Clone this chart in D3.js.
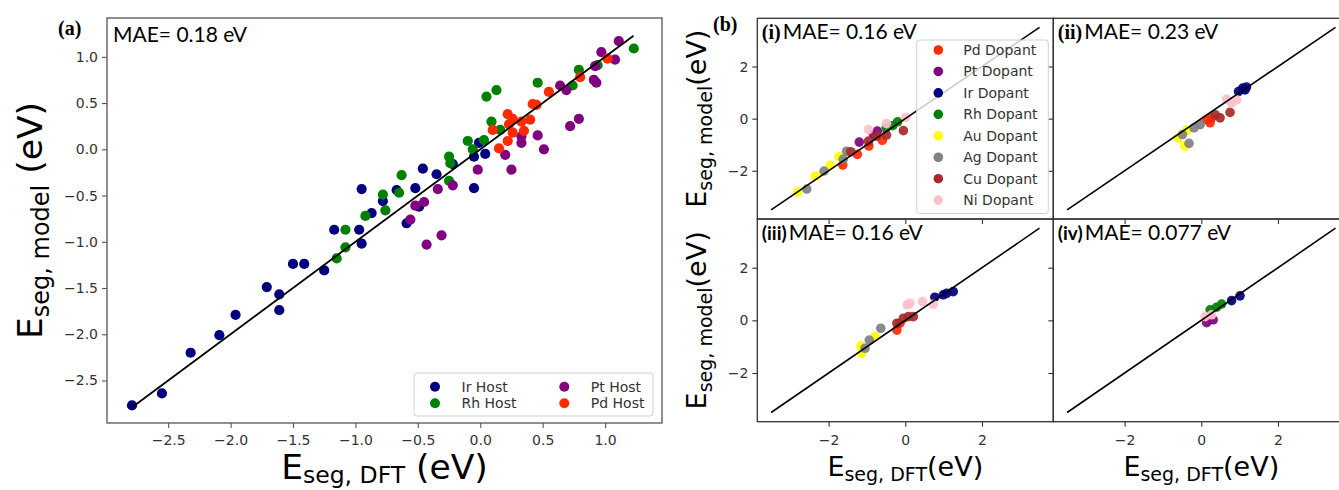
<!DOCTYPE html>
<html>
<head>
<meta charset="utf-8">
<script src="https://cdn.jsdelivr.net/npm/d3@7"></script>
<style>
  body { margin: 0; background: #fff; }
  text { white-space: pre; }
</style>
</head>
<body>
<svg id="fig" width="1339" height="490"></svg>
<script>
// ---------- Panel (a): segregation energy, model vs DFT, by host metal [DFT, model] (eV)
const irHost = [[-2.79,-2.77],[-2.55,-2.64],[-2.32,-2.20],[-2.09,-2.01],[-1.96,-1.79],[-1.71,-1.49],
  [-1.61,-1.57],[-1.61,-1.74],[-1.50,-1.24],[-1.41,-1.24],[-1.25,-1.31],[-1.17,-0.87],[-0.97,-0.87],
  [-0.95,-1.02],[-0.95,-0.43],[-0.87,-0.69],[-0.78,-0.56],[-0.67,-0.44],[-0.52,-0.42],[-0.59,-0.80],
  [-0.49,-0.62],[-0.46,-0.21],[-0.35,-0.27],[-0.22,-0.16],[-0.05,-0.42],[-0.05,-0.08],[-0.01,0.07],[0.04,-0.05]];
const rhHost = [[-1.15,-1.18],[-1.08,-0.87],[-1.08,-1.06],[-0.92,-0.72],[-0.78,-0.49],[-0.76,-0.66],
  [-0.65,-0.47],[-0.63,-0.28],[-0.25,-0.34],[-0.25,-0.08],[-0.24,-0.15],[-0.10,0.09],[-0.06,0.00],
  [0.03,0.10],[0.05,0.57],[0.13,0.64],[0.09,0.30],[0.16,0.21],[0.46,0.72],[0.79,0.86],[0.74,0.69],
  [0.94,0.91],[1.23,1.09]];
const ptHost = [[-0.56,-0.76],[-0.52,-0.61],[-0.45,-0.57],[-0.43,-1.03],[-0.31,-0.93],[-0.34,-0.43],
  [-0.22,-0.39],[-0.02,-0.22],[0.20,-0.06],[0.25,-0.22],[0.33,0.07],[0.33,0.14],[0.46,0.15],[0.51,0.00],
  [0.64,0.69],[0.69,0.64],[0.72,0.25],[0.79,0.33],[0.91,0.75],[0.93,0.72],[0.92,0.90],[0.97,1.05],
  [1.08,0.97],[1.11,1.17]];
const pdHost = [[0.10,0.21],[0.15,0.01],[0.22,0.38],[0.23,0.27],[0.26,0.18],[0.22,0.09],[0.26,0.33],
  [0.33,0.30],[0.35,0.20],[0.40,0.32],[0.42,0.49],[0.45,0.48],[0.55,0.62],[0.80,0.78],[1.02,0.98]];
const hostNames = ["Ir Host", "Rh Host", "Pt Host", "Pd Host"];
const parityA = [-2.786, 1.228];
const ticksA = [-2.5, -2.0, -1.5, -1.0, -0.5, 0.0, 0.5, 1.0];
const maeA = "MAE= 0.18 eV";

// ---------- Panel (b): four sub-models, points as [dopant index, DFT, model] (eV)
const dopantNames = ["Pd Dopant", "Pt Dopant", "Ir Dopant", "Rh Dopant", "Au Dopant", "Ag Dopant", "Cu Dopant", "Ni Dopant"];
const subI = [[0,-1.63,-1.78],[0,-1.25,-1.37],[0,-0.95,-1.05],[0,-0.60,-0.83],
  [1,-1.20,-0.90],[1,-0.73,-0.48],[1,-0.83,-0.61],
  [3,-0.50,-0.36],[3,-0.33,-0.27],[3,-0.20,-0.12],
  [4,-2.81,-2.81],[4,-2.34,-2.20],[4,-1.96,-1.79],[4,-1.73,-1.46],
  [5,-2.57,-2.70],[5,-2.12,-2.01],[5,-1.62,-1.56],[5,-1.53,-1.25],
  [6,-1.42,-1.27],[6,-0.96,-0.86],[6,-0.75,-0.67],[6,-0.49,-0.63],[6,-0.05,-0.46],
  [7,-0.96,-0.42],[7,-0.49,-0.19],[7,0.01,0.05]];
const subII = [[2,0.97,1.04],[2,1.08,1.17],[2,1.14,1.10],[2,1.18,1.21],
  [7,0.66,0.75],[7,0.92,0.72],[7,0.79,0.60],
  [6,0.75,0.24],[6,0.49,0.03],[6,0.36,0.15],
  [0,0.23,-0.16],[0,0.27,0.03],[0,0.14,-0.04],
  [5,-0.03,-0.23],[5,-0.19,-0.35],[5,-0.49,-0.61],[5,-0.32,-0.95],
  [4,-0.43,-1.05],[4,-0.60,-0.74],[4,-0.38,-0.45]];
const subIII = [[4,-1.14,-1.25],[4,-1.16,-0.97],[4,-0.79,-0.62],
  [5,-1.05,-1.06],[5,-0.94,-0.75],[5,-0.64,-0.30],
  [0,-0.22,-0.37],[0,-0.14,-0.11],
  [6,-0.22,-0.11],[6,-0.05,0.08],[6,0.08,0.14],[6,0.21,0.14],
  [7,0.05,0.59],[7,0.12,0.65],[7,0.45,0.71],[7,0.73,0.61],
  [2,0.77,0.88],[2,0.99,0.97],[2,1.25,1.09],[2,1.08,1.03]];
const subIV = [[1,0.14,-0.09],[1,0.31,0.02],
  [7,0.10,0.14],[7,0.27,0.21],
  [3,0.23,0.40],[3,0.40,0.50],[3,0.53,0.62],
  [2,0.79,0.75],[2,1.01,0.93]];
const subTags = ["(i)", "(ii)", "(iii)", "(iv)"];
const subMAE = ["MAE= 0.16 eV", "MAE= 0.23 eV", "MAE= 0.16 eV", "MAE= 0.077 eV"];
const parityB = [-3.5, 3.5];
const ticksB = [-2, 0, 2];

// ---------- styling
const hostColors = ["#000080", "#008000", "#800080", "#ff2a00"];
const dopantColors = ["#ff2a00", "#800080", "#000080", "#008000", "#ffff00", "#808080", "#a52a2a", "#ffc0cb"];
const TICK_FONT = "DejaVu Sans";
const NOTE_FONT = "Lato, 'Open Sans', sans-serif";
const SERIF = "'Liberation Serif', 'DejaVu Serif', serif";

const svg = d3.select("#fig");
svg.append("rect").attr("width", 1339).attr("height", 490).attr("fill", "#fff");

function styleAxis(g, color) {
  g.select(".domain").remove();
  g.selectAll(".tick line").attr("stroke", color).attr("stroke-width", 1.1);
  g.selectAll(".tick text").attr("font-family", TICK_FONT).attr("font-size", 14).attr("fill", "#333");
}

// E_{sub} (unit) label in the mathtext style
function eLabel(g, sub, tail, F, f, shift) {
  const t = g.append("text").attr("text-anchor", "middle").attr("font-family", "DejaVu Sans").attr("fill", "#000");
  t.append("tspan").attr("font-size", F).text("E");
  t.append("tspan").attr("font-size", f).attr("dy", shift).text(sub);
  t.append("tspan").attr("font-size", F).attr("dy", -shift).text(tail);
  return t;
}

// ================= Panel (a)
const A = { left: 107, right: 662, top: 18, bottom: 423 };
const xA = d3.scaleLinear().domain([-2.99, 1.456]).range([A.left, A.right]);
const yA = d3.scaleLinear().domain([-2.96, 1.42]).range([A.bottom, A.top]);
const gA = svg.append("g");

const fmtA = d3.format(".1f");
gA.append("g").attr("transform", `translate(0,${A.bottom})`)
  .call(d3.axisBottom(xA).tickValues(ticksA).tickSize(5).tickPadding(7).tickFormat(fmtA))
  .call(g => styleAxis(g, "#555"));
gA.append("g").attr("transform", `translate(${A.left},0)`)
  .call(d3.axisLeft(yA).tickValues(ticksA).tickSize(5).tickPadding(4).tickFormat(fmtA))
  .call(g => styleAxis(g, "#555"));

[irHost, rhHost, ptHost, pdHost].forEach((pts, i) => {
  gA.append("g").selectAll("circle").data(pts).join("circle")
    .attr("cx", d => xA(d[0])).attr("cy", d => yA(d[1])).attr("r", 5.1)
    .attr("fill", hostColors[i]);
});
gA.append("line")
  .attr("x1", xA(parityA[0])).attr("y1", yA(parityA[0]))
  .attr("x2", xA(parityA[1])).attr("y2", yA(parityA[1]))
  .attr("stroke", "#000").attr("stroke-width", 1.8);

gA.append("rect").attr("x", A.left).attr("y", A.top)
  .attr("width", A.right - A.left).attr("height", A.bottom - A.top)
  .attr("fill", "none").attr("stroke", "#555").attr("stroke-width", 1.3);

// legend (two columns)
const legA = gA.append("g");
legA.append("rect").attr("x", 414).attr("y", 373).attr("width", 239).attr("height", 43).attr("rx", 3)
  .attr("fill", "#fff").attr("fill-opacity", 0.8).attr("stroke", "#d0d0d0");
hostNames.forEach((name, i) => {
  const col = Math.floor(i / 2), row = i % 2;
  const cx = 435 + col * 129.3, cy = 386.7 + row * 16.6;
  legA.append("circle").attr("cx", cx).attr("cy", cy).attr("r", 5).attr("fill", hostColors[i]);
  legA.append("text").attr("x", cx + 26.5).attr("y", cy + 5)
    .attr("font-family", TICK_FONT).attr("font-size", 14).attr("fill", "#333").text(name);
});

gA.append("text").attr("x", 113).attr("y", 41.5).attr("font-family", NOTE_FONT).attr("font-size", 21)
  .attr("fill", "#000").text(maeA);
gA.append("text").attr("x", 58).attr("y", 35).attr("font-family", SERIF).attr("font-weight", "bold")
  .attr("font-size", 20).attr("fill", "#000").text("(a)");

eLabel(gA.append("g").attr("transform", `translate(${(A.left + A.right) / 2},479)`),
  "seg, DFT", " (eV)", 34.5, 23.5, 4);
eLabel(gA.append("g").attr("transform", `translate(42,${(A.top + A.bottom) / 2}) rotate(-90)`),
  "seg, model", " (eV)", 34.5, 24, 7);

// ================= Panel (b): 2x2 grid sharing axes
const colX = [[757.3, 1053.3], [1053.3, 1349.3]];
const rowY = [[18.3, 219], [219, 421.7]];
const domB = [-3.86, 3.86];
const gB = svg.append("g");
const subData = [subI, subII, subIII, subIV];
const fmtB = d3.format("d");

subData.forEach((pts, k) => {
  const c = k % 2, r = Math.floor(k / 2);
  const x = d3.scaleLinear().domain(domB).range(colX[c]);
  const y = d3.scaleLinear().domain([-3.85, 3.85]).range([rowY[r][1], rowY[r][0]]);
  const g = gB.append("g");

  g.append("g").attr("transform", `translate(0,${rowY[r][1]})`)
    .call(d3.axisBottom(x).tickValues(ticksB).tickSize(5).tickPadding(8.5)
      .tickFormat(r === 1 ? fmtB : () => ""))
    .call(a => styleAxis(a, "#333"));
  g.append("g").attr("transform", `translate(${colX[c][0]},0)`)
    .call(d3.axisLeft(y).tickValues(ticksB).tickSize(5).tickPadding(4)
      .tickFormat(c === 0 ? fmtB : () => ""))
    .call(a => styleAxis(a, "#333"));

  const sorted = pts.slice().sort((a, b) => a[0] - b[0]);
  g.append("g").selectAll("circle").data(sorted).join("circle")
    .attr("cx", d => x(d[1])).attr("cy", d => y(d[2])).attr("r", 4.8)
    .attr("fill", d => dopantColors[d[0]]).attr("fill-opacity", 0.92);

  g.append("line")
    .attr("x1", x(parityB[0])).attr("y1", y(parityB[0]))
    .attr("x2", x(parityB[1])).attr("y2", y(parityB[1]))
    .attr("stroke", "#000").attr("stroke-width", 1.6);

  g.append("rect").attr("x", colX[c][0]).attr("y", rowY[r][0])
    .attr("width", colX[c][1] - colX[c][0]).attr("height", rowY[r][1] - rowY[r][0])
    .attr("fill", "none").attr("stroke", "#333").attr("stroke-width", 1.3);

  // panel tag and MAE note
  const tagSerif = k < 2;
  const tx = colX[c][0] + 4.5, ty = rowY[r][0] + 21;
  const tag = g.append("text").attr("x", tx).attr("y", ty).attr("font-weight", "bold").attr("fill", "#000")
    .attr("font-family", tagSerif ? SERIF : NOTE_FONT).attr("font-size", tagSerif ? 20 : 19).text(subTags[k]);
  const tw = tag.node().getComputedTextLength();
  g.append("text").attr("x", tx + tw + 2).attr("y", ty).attr("font-family", NOTE_FONT)
    .attr("font-size", 21).attr("fill", "#000").text(subMAE[k]);

  if (r === 1) {
    eLabel(g.append("g").attr("transform", `translate(${(colX[c][0] + colX[c][1]) / 2},476)`),
      "seg, DFT", "(eV)", 27, 19, 5);
  }
  if (c === 0) {
    eLabel(g.append("g").attr("transform", `translate(706,${(rowY[r][0] + rowY[r][1]) / 2}) rotate(-90)`),
      "seg, model", "(eV)", 27, 19, 6);
  }
});

// dopant legend inside subplot (i)
const legB = gB.append("g");
legB.append("rect").attr("x", 916.7).attr("y", 40).attr("width", 131.6).attr("height", 173.5).attr("rx", 3)
  .attr("fill", "#fff").attr("fill-opacity", 0.8).attr("stroke", "#d0d0d0");
dopantNames.forEach((name, i) => {
  const cy = 50 + i * 21.45;
  legB.append("circle").attr("cx", 938.3).attr("cy", cy).attr("r", 4.8).attr("fill", dopantColors[i]);
  legB.append("text").attr("x", 963.3).attr("y", cy + 5).attr("font-family", TICK_FONT)
    .attr("font-size", 14).attr("fill", "#333").text(name);
});

gB.append("text").attr("x", 713).attr("y", 31).attr("font-family", SERIF).attr("font-weight", "bold")
  .attr("font-size", 20).attr("fill", "#000").text("(b)");
</script>
</body>
</html>
